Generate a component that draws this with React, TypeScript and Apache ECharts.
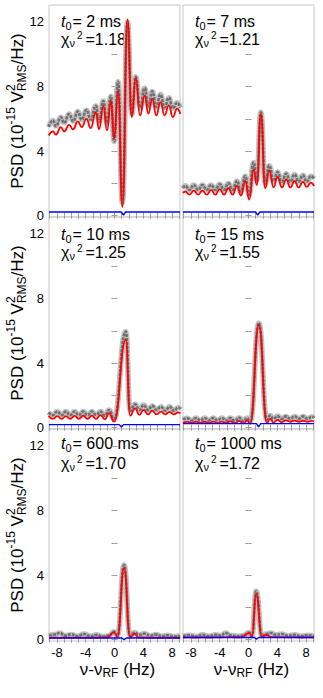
import React, { useEffect, useRef } from 'react';
import * as echarts from 'echarts';

const FONT = '"Liberation Sans", Arial, Helvetica, sans-serif';

// ---- axes ----
const X_TICKS = [-9, -8, -7, -6, -5, -4, -3, -2, -1, 0, 1, 2, 3, 4, 5, 6, 7, 8, 9];
const X_LABELS = [-8, -4, 0, 4, 8];
const Y_TICKS = [0, 2, 4, 6, 8, 10, 12];
const Y_LABELS = [0, 4, 8, 12];
const X_RANGE = [-9.1, 9.1];
const Y_RANGE = [-0.08, 13.05];

// ---- annotations ----
const T0_LABELS = ['2 ms', '7 ms', '10 ms', '15 ms', '600 ms', '1000 ms'];
const CHI2_LABELS = ['1.18', '1.21', '1.25', '1.55', '1.70', '1.72'];

// ---- panel 1 : t0 = 2 ms ----
const p1X = [-9.15, -8.55, -8.15, -7.45, -7.0, -6.3, -5.75, -5.1, -4.55, -3.9, -3.3, -2.6, -2.15, -1.55, -1.05, -0.5, -0.05, 0.5, 1.1, 1.8, 2.4, 2.95, 3.55, 4.2, 4.7, 5.25, 5.8, 6.4, 6.95, 7.55, 8.1, 8.7, 9.15];
const p1Fit = [4.97, 5.22, 5.02, 5.49, 5.22, 5.63, 5.35, 5.84, 5.49, 6.0, 5.43, 6.42, 5.35, 6.79, 5.28, 7.14, 4.77, 7.76, 0.54, 12.16, 6.11, 8.54, 6.21, 7.45, 6.32, 7.24, 6.21, 7.04, 6.21, 6.83, 6.11, 6.63, 6.3];
const p1DataX = p1X;
const p1Data = [5.5, 5.9, 5.55, 6.1, 5.75, 6.3, 5.85, 6.45, 5.95, 6.55, 5.95, 6.8, 5.85, 7.1, 5.75, 7.4, 4.6, 8.3, 0.8, 12.0, 6.3, 8.6, 6.7, 7.9, 6.8, 7.7, 6.75, 7.5, 6.7, 7.3, 6.65, 7.0, 6.7];

// ---- panel 2 : t0 = 7 ms ----
const p2X = [-9.1, -8.8, -8.2, -7.6, -7.0, -6.4, -5.8, -5.2, -4.6, -4.0, -3.4, -2.8, -2.2, -1.6, -1.05, -0.45, 0.1, 0.7, 1.16, 1.72, 2.32, 2.88, 3.48, 4.03, 4.64, 5.24, 5.8, 6.4, 6.96, 7.56, 8.1, 8.66, 9.1];
const p2Fit = [1.4, 1.5, 1.3, 1.55, 1.3, 1.55, 1.3, 1.6, 1.3, 1.65, 1.3, 1.7, 1.3, 1.85, 1.25, 2.15, 1.0, 2.85, 1.9, 6.3, 1.7, 2.8, 1.75, 2.4, 1.75, 2.25, 1.75, 2.15, 1.75, 2.1, 1.78, 2.05, 1.85];
const p2DataX = p2X;
const p2Data = [1.7, 1.85, 1.6, 1.9, 1.6, 1.9, 1.6, 1.9, 1.6, 1.95, 1.6, 2.0, 1.6, 2.15, 1.5, 2.45, 1.3, 3.3, 2.2, 6.4, 2.0, 3.1, 2.15, 2.7, 2.1, 2.6, 2.1, 2.55, 2.1, 2.5, 2.1, 2.45, 2.3];

// ---- panel 3 : t0 = 10 ms ----
const p3X = [-9.15, -8.55, -7.95, -7.35, -6.75, -6.15, -5.55, -4.95, -4.35, -3.75, -3.15, -2.55, -1.95, -1.35, -0.75, -0.06, 1.57, 2.17, 2.86, 3.45, 4.05, 4.65, 5.25, 5.85, 6.45, 7.05, 7.65, 8.25, 8.85, 9.15];
const p3Fit = [0.72, 0.55, 0.72, 0.55, 0.72, 0.55, 0.73, 0.55, 0.74, 0.55, 0.75, 0.55, 0.78, 0.52, 0.9, 0.38, 5.45, 0.75, 1.2, 0.8, 1.1, 0.82, 1.05, 0.82, 1.0, 0.82, 0.98, 0.82, 0.95, 0.9];
const p3DataX = p3X;
const p3Data = [0.95, 0.78, 1.0, 0.78, 1.0, 0.78, 1.0, 0.78, 1.0, 0.78, 1.0, 0.8, 1.0, 0.75, 1.1, 0.55, 5.95, 1.05, 1.45, 1.1, 1.4, 1.1, 1.35, 1.1, 1.3, 1.05, 1.3, 1.05, 1.25, 1.15];

// ---- panel 4 : t0 = 15 ms ----
const p4X = [-9.1, -8.5, -7.9, -7.3, -6.7, -6.1, -5.5, -4.9, -4.3, -3.7, -3.1, -2.5, -1.9, -1.3, -0.7, -0.2, 0.24, 1.44, 2.55, 3.0, 3.48, 4.03, 4.6, 5.2, 5.8, 6.4, 7.0, 7.6, 8.2, 8.8, 9.1];
const p4Fit = [0.3, 0.36, 0.3, 0.37, 0.3, 0.37, 0.3, 0.38, 0.3, 0.38, 0.3, 0.4, 0.28, 0.42, 0.27, 0.45, 0.25, 6.38, 0.3, 0.55, 0.32, 0.48, 0.35, 0.45, 0.37, 0.44, 0.37, 0.43, 0.37, 0.42, 0.4];
const p4DataX = p4X;
const p4Data = [0.5, 0.58, 0.45, 0.6, 0.45, 0.6, 0.45, 0.6, 0.45, 0.6, 0.45, 0.6, 0.42, 0.62, 0.4, 0.6, 0.38, 6.48, 0.5, 0.75, 0.55, 0.72, 0.55, 0.7, 0.55, 0.7, 0.55, 0.7, 0.55, 0.68, 0.6];

// ---- panel 5 : t0 = 600 ms ----
const p5X = [-9.1, -6.0, -3.0, -1.0, -0.06, 0.41, 1.33, 2.16, 2.81, 3.32, 5.0, 9.1];
const p5Fit = [0.13, 0.13, 0.13, 0.15, 0.45, 0.17, 4.44, 0.17, 0.37, 0.15, 0.13, 0.13];
const p5DataX = [-9.1, -8.3, -7.6, -6.9, -6.0, -5.2, -4.2, -3.3, -2.5, -1.6, -0.8, -0.06, 0.41, 1.33, 2.16, 2.81, 3.4, 4.2, 5.0, 5.8, 6.6, 7.4, 8.3, 9.1];
const p5Data = [0.25, 0.32, 0.42, 0.25, 0.33, 0.22, 0.35, 0.22, 0.3, 0.2, 0.25, 0.5, 0.25, 4.62, 0.25, 0.45, 0.3, 0.38, 0.25, 0.32, 0.22, 0.28, 0.2, 0.25];

// ---- panel 6 : t0 = 1000 ms ----
const p6X = [-9.1, -5.0, -1.0, 0.1, 0.48, 1.07, 1.86, 2.46, 3.2, 9.1];
const p6Fit = [0.15, 0.15, 0.16, 0.41, 0.2, 2.85, 0.18, 0.3, 0.16, 0.15];
const p6DataX = [-9.1, -8.2, -7.3, -6.4, -5.5, -4.6, -3.8, -3.2, -2.5, -1.6, -0.8, 0.1, 0.48, 1.07, 1.86, 2.46, 3.1, 3.8, 4.6, 5.5, 6.4, 7.3, 8.2, 9.1];
const p6Data = [0.22, 0.28, 0.2, 0.3, 0.22, 0.3, 0.25, 0.42, 0.28, 0.22, 0.25, 0.45, 0.25, 3.0, 0.25, 0.35, 0.42, 0.3, 0.35, 0.25, 0.3, 0.22, 0.28, 0.22];

// ---- blue traces (flat level with a small dip) ----
const BLUE_LEVEL = [0.23, 0.23, 0.19, 0.25, 0.11, 0.14];
const BLUE_DIP_X = [1.24, 1.28, 0.96, 1.4, 1.33, 1.1];
const BLUE_DIP_Y = [0.03, 0.03, 0.04, 0.05, 0.0, 0.03];

const PANELS = [
  { fitX: p1X, fit: p1Fit, dataX: p1DataX, data: p1Data },
  { fitX: p2X, fit: p2Fit, dataX: p2DataX, data: p2Data },
  { fitX: p3X, fit: p3Fit, dataX: p3DataX, data: p3Data },
  { fitX: p4X, fit: p4Fit, dataX: p4DataX, data: p4Data },
  { fitX: p5X, fit: p5Fit, dataX: p5DataX, data: p5Data },
  { fitX: p6X, fit: p6Fit, dataX: p6DataX, data: p6Data },
];

// ---- layout ----
const COL_LEFT = [49, 183];
const COL_W = 131;
const ROW_TOP = [5, 217, 429];
const ROW_H = 212;
const ANN_Y1 = [21.5, 234.5, 443.5];
const ANN_Y2 = [39, 252, 463];

const zip = (xs: number[], ys: number[]) => xs.map((x, i) => [x, ys[i]]);

let measureCtx: CanvasRenderingContext2D | null = null;
function tw(text: string, size: number, style = 'normal') {
  if (!measureCtx) measureCtx = document.createElement('canvas').getContext('2d');
  if (!measureCtx) return text.length * size * 0.55;
  measureCtx.font = `${style} ${size}px ${FONT}`;
  return measureCtx.measureText(text).width;
}

function txt(text: string, x: number, y: number, size: number, extra: any = {}) {
  return {
    type: 'text',
    x,
    y,
    silent: true,
    style: {
      text,
      fontSize: size,
      fontFamily: FONT,
      fill: '#000',
      align: 'left',
      verticalAlign: 'middle',
      lineHeight: Math.round(size * 0.85),
      ...extra,
    },
  };
}

function buildOption() {
  const grid: any[] = [];
  const xAxis: any[] = [];
  const yAxis: any[] = [];
  const series: any[] = [];
  const graphic: any[] = [];

  const tickStyle = { show: true, inside: true, length: 3, lineStyle: { color: '#9a9a9a', width: 1 } };

  PANELS.forEach((p, i) => {
    const row = Math.floor(i / 2);
    const col = i % 2;
    const left = COL_LEFT[col];
    const top = ROW_TOP[row];
    grid.push({
      left,
      top,
      width: COL_W,
      height: ROW_H,
      show: true,
      borderColor: '#c8c8c8',
      borderWidth: 1,
      backgroundColor: 'transparent',
      containLabel: false,
      outerBoundsMode: 'none',
    });
    const isBottom = row === 2;
    const isLeft = col === 0;
    xAxis.push({
      type: 'value',
      gridIndex: i,
      position: 'bottom',
      min: X_RANGE[0],
      max: X_RANGE[1],
      axisLine: { show: false },
      splitLine: { show: false },
      axisTick: { ...tickStyle, customValues: X_TICKS },
      axisLabel: {
        show: isBottom,
        customValues: X_LABELS,
        fontSize: 13,
        fontFamily: FONT,
        color: '#000',
        margin: 5,
      },
    });
    xAxis.push({
      type: 'value',
      gridIndex: i,
      position: 'top',
      min: X_RANGE[0],
      max: X_RANGE[1],
      axisLine: { show: false },
      splitLine: { show: false },
      axisTick: { ...tickStyle, customValues: X_TICKS },
      axisLabel: { show: false },
    });
    yAxis.push({
      type: 'value',
      gridIndex: i,
      position: 'left',
      min: Y_RANGE[0],
      max: Y_RANGE[1],
      axisLine: { show: false },
      splitLine: { show: false },
      axisTick: { ...tickStyle, customValues: Y_TICKS },
      axisLabel: {
        show: isLeft,
        customValues: Y_LABELS,
        fontSize: 13,
        fontFamily: FONT,
        color: '#000',
        margin: 5,
      },
    });
    yAxis.push({
      type: 'value',
      gridIndex: i,
      position: 'right',
      min: Y_RANGE[0],
      max: Y_RANGE[1],
      axisLine: { show: false },
      splitLine: { show: false },
      axisTick: { ...tickStyle, customValues: Y_TICKS },
      axisLabel: { show: false },
    });

    const ax = { xAxisIndex: 2 * i, yAxisIndex: 2 * i };
    const dataPts = zip(p.dataX, p.data);
    series.push({
      type: 'line',
      ...ax,
      data: dataPts,
      showSymbol: false,
      smooth: true,
      smoothMonotone: 'x',
      lineStyle: { color: '#c2c2c2', width: 5.5 },
      silent: true,
      z: 1,
    });
    series.push({
      type: 'line',
      ...ax,
      data: dataPts,
      showSymbol: false,
      smooth: true,
      smoothMonotone: 'x',
      lineStyle: { color: '#6f6f6f', width: 2.6, type: [3, 1] },
      silent: true,
      z: 2,
    });
    series.push({
      type: 'line',
      ...ax,
      data: zip(p.fitX, p.fit),
      showSymbol: false,
      smooth: true,
      smoothMonotone: 'x',
      lineStyle: { color: '#ff0000', width: 1.8 },
      silent: true,
      z: 3,
    });
    const bl = BLUE_LEVEL[i];
    const dx = BLUE_DIP_X[i];
    series.push({
      type: 'line',
      ...ax,
      data: [
        [X_RANGE[0], bl],
        [dx - 0.3, bl],
        [dx, BLUE_DIP_Y[i]],
        [dx + 0.3, bl],
        [X_RANGE[1], bl],
      ],
      showSymbol: false,
      lineStyle: { color: '#0000ff', width: 1.4 },
      silent: true,
      z: 4,
    });

    // annotation
    const tx = left + 12;
    const y1 = ANN_Y1[row];
    const y2 = ANN_Y2[row];
    const wt = tw('t', 16, 'italic');
    const w0 = tw('0', 11);
    graphic.push(txt('t', tx, y1, 16, { fontStyle: 'italic' }));
    graphic.push(txt('0', tx + wt, y1 + 4, 11));
    graphic.push(txt('= ' + T0_LABELS[i], tx + wt + w0 + 1, y1, 16));
    const wchi = tw('\u03c7', 16);
    const wnu = tw('\u03bd', 11);
    graphic.push(txt('\u03c7', tx, y2, 16));
    graphic.push(txt('\u03bd', tx + wchi, y2 + 4, 11));
    const x2 = tx + wchi + wnu + 2;
    graphic.push(txt('2', x2, y2 - 4, 10));
    graphic.push(txt('=' + CHI2_LABELS[i], x2 + tw('2', 10) + 3, y2, 16));

    // y-axis title
    if (isLeft) {
      const parts: [string, number, number][] = [
        ['PSD (10', 17, 0],
        ['-15', 12, -6],
        [' V', 17, 0],
      ];
      const wA = parts.reduce((s, q) => s + tw(q[0], q[1]), 0);
      const wStack = Math.max(tw('2', 12), tw('RMS', 12));
      const wEnd = tw('/Hz)', 17);
      const total = wA + wStack + wEnd;
      let cx = -total / 2;
      const children: any[] = [];
      parts.forEach((q) => {
        children.push(txt(q[0], cx, q[2], q[1]));
        cx += tw(q[0], q[1]);
      });
      children.push(txt('2', cx, -6, 12));
      children.push(txt('RMS', cx, 5, 12));
      cx += wStack;
      children.push(txt('/Hz)', cx, 0, 17));
      graphic.push({
        type: 'group',
        x: 17,
        y: top + 106,
        rotation: Math.PI / 2,
        silent: true,
        children,
      });
    }

    // x-axis title
    if (isBottom) {
      const wa = tw('\u03bd-\u03bd', 17);
      const wb = tw('RF', 12);
      const wc = tw(' (Hz)', 17);
      const total = wa + wb + wc;
      const cx0 = left + COL_W / 2 + 3 - total / 2;
      const yy = 669;
      graphic.push(txt('\u03bd-\u03bd', cx0, yy, 17));
      graphic.push(txt('RF', cx0 + wa, yy + 4, 12));
      graphic.push(txt(' (Hz)', cx0 + wa + wb, yy, 17));
    }
  });

  return {
    animation: false,
    backgroundColor: '#ffffff',
    grid,
    xAxis,
    yAxis,
    series,
    graphic,
  };
}

export default function App() {
  const ref = useRef<HTMLDivElement>(null);
  useEffect(() => {
    if (!ref.current) return;
    const chart = echarts.init(ref.current, null, { renderer: 'svg' });
    chart.setOption(buildOption() as any);
    return () => chart.dispose();
  }, []);
  return (
    <div
      ref={ref}
      style={{ position: 'fixed', left: 0, top: 0, width: 323, height: 698, background: '#fff' }}
    />
  );
}
